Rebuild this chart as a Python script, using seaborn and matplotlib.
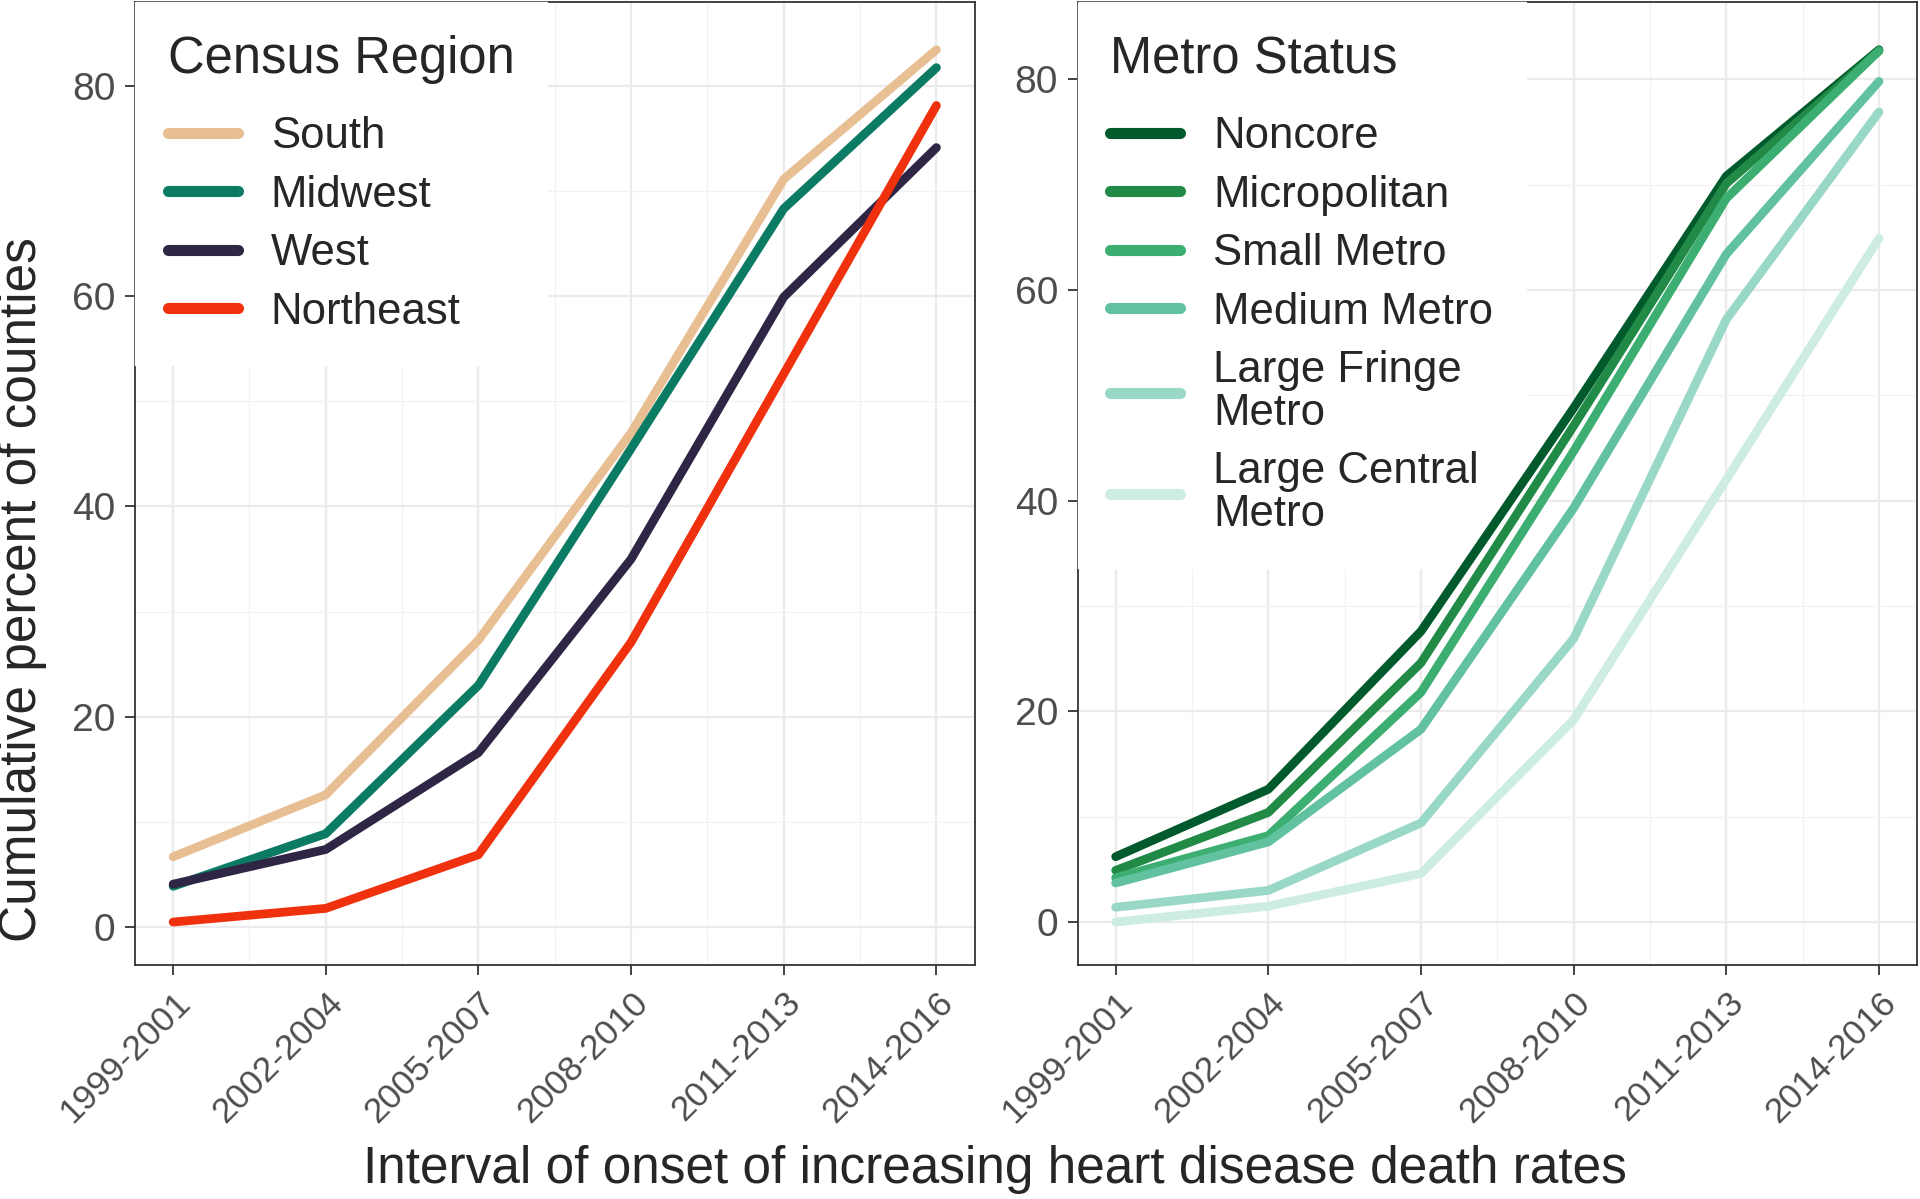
import pandas as pd
import seaborn as sns
import matplotlib.pyplot as plt
from matplotlib.ticker import MultipleLocator

# x categories (intervals of onset)
intervals = ["1999-2001", "2002-2004", "2005-2007", "2008-2010", "2011-2013", "2014-2016"]

# Census region series (cumulative % of counties)
regions = ["South", "Midwest", "West", "Northeast"]
south = [6.7, 12.6, 27.3, 47.0, 71.1, 83.4]
midwest = [3.9, 8.9, 23.0, 45.5, 68.3, 81.7]
west = [4.1, 7.4, 16.6, 35.0, 59.9, 74.1]
northeast = [0.5, 1.8, 6.9, 27.1, 52.6, 78.1]
region_colors = ["#E8BF92", "#0B7B63", "#2E2644", "#F0310E"]

# Metro status series
metro = ["Noncore", "Micropolitan", "Small Metro", "Medium Metro",
         "Large Fringe\nMetro", "Large Central\nMetro"]
noncore = [6.2, 12.6, 27.6, 48.8, 70.8, 82.8]
micropolitan = [4.9, 10.4, 24.6, 47.1, 70.1, 82.7]
small_metro = [4.2, 8.2, 21.8, 44.7, 68.7, 82.7]
medium_metro = [3.7, 7.6, 18.3, 39.3, 63.4, 79.8]
large_fringe = [1.4, 3.0, 9.4, 26.9, 57.2, 76.9]
large_central = [0.0, 1.5, 4.6, 19.2, 42.0, 64.9]
metro_colors = ["#005A2B", "#218A47", "#3DAE72", "#62C2A0", "#99D8C6", "#CCECE4"]


def long_df(names, series):
    rows = []
    for name, vals in zip(names, series):
        for iv, v in zip(intervals, vals):
            rows.append({"interval": iv, "group": name, "pct": v})
    return pd.DataFrame(rows)


df_region = long_df(regions, [south, midwest, west, northeast])
df_metro = long_df(metro, [noncore, micropolitan, small_metro, medium_metro,
                           large_fringe, large_central])

sns.set_theme(style="white")
plt.rcParams["font.family"] = ["Liberation Sans", "DejaVu Sans"]

fig, axes = plt.subplots(1, 2, figsize=(19.2, 11.99), dpi=100)
fig.subplots_adjust(left=0.0703, right=0.9985, top=0.998, bottom=0.195, wspace=0.1226)

panels = [
    (axes[0], df_region, regions, region_colors, "Census Region", (-3.6, 87.9)),
    (axes[1], df_metro, metro, metro_colors, "Metro Status", (-4.1, 87.3)),
]

for ax, df, names, colors, title, ylim in panels:
    sns.lineplot(data=df, x="interval", y="pct", hue="group", hue_order=names,
                 palette=colors, linewidth=6.3, ax=ax, sort=False, zorder=3)
    ax.set_xlim(-0.25, 5.25)
    ax.set_ylim(*ylim)
    ax.yaxis.set_major_locator(MultipleLocator(20))
    ax.yaxis.set_minor_locator(MultipleLocator(10))
    ax.xaxis.set_minor_locator(MultipleLocator(0.5))
    ax.grid(which="major", color="#EBEBEB", linewidth=1.6, zorder=0)
    ax.grid(which="minor", color="#F2F2F2", linewidth=0.9, zorder=0)
    ax.set_axisbelow(True)
    for s in ax.spines.values():
        s.set_color("#333333")
        s.set_linewidth(1.3)
    ax.tick_params(axis="both", which="major", length=7, width=1.3, color="#333333",
                   bottom=True, left=True)
    ax.tick_params(axis="both", which="minor", length=0)
    ax.tick_params(axis="y", labelsize=28, labelcolor="#4D4D4D", pad=7)
    ax.set_xticks(range(len(intervals)))
    ax.set_xticklabels(intervals, rotation=45, ha="right", rotation_mode="anchor",
                       fontsize=25.5, color="#4D4D4D")
    ax.tick_params(axis="x", pad=8)
    ax.set_xlabel("")
    ax.set_ylabel("")
    leg = ax.legend(title=title, loc="upper left", bbox_to_anchor=(0.0, 1.0),
                    borderaxespad=0, frameon=True, fancybox=False, framealpha=1,
                    edgecolor="white", facecolor="white", fontsize=31.5,
                    title_fontsize=36.5, alignment="left", handlelength=1.6,
                    handletextpad=0.75, labelspacing=0.4, borderpad=0.75)
    # wider gap between the legend title and the first key
    leg._legend_box.sep = 23
    for ln in leg.get_lines():
        ln.set_linewidth(8)
    for t in leg.get_texts():
        t.set_linespacing(1.05)
    # legend box hides the grid but stays under the data lines
    leg.set_zorder(2.5)

fig.text(0.0115, 0.508, "Cumulative percent of counties", rotation=90,
         ha="center", va="center", fontsize=37)
fig.text(0.518, 0.025, "Interval of onset of increasing heart disease death rates",
         ha="center", va="center", fontsize=37)

fig.savefig("out.png", dpi=100)
